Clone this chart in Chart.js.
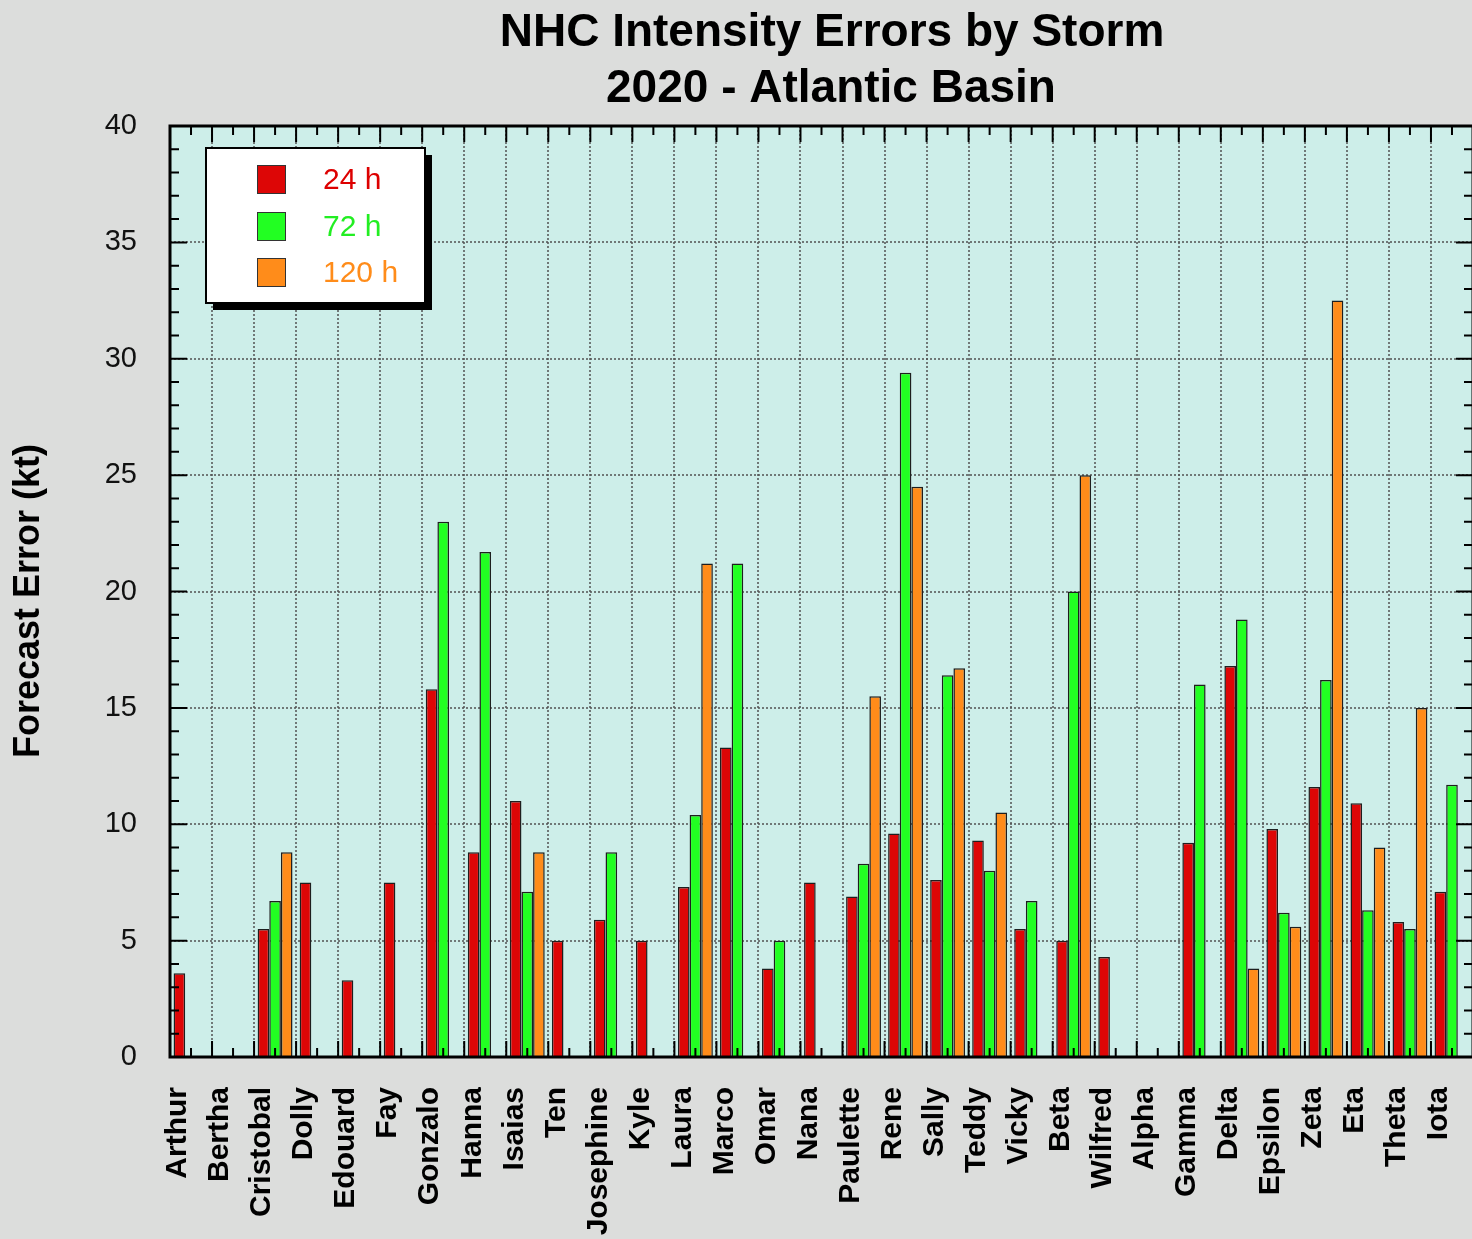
<!DOCTYPE html>
<html>
<head>
<meta charset="utf-8">
<script src="https://cdn.jsdelivr.net/npm/chart.js@4.4.0/dist/chart.umd.min.js"></script>
<style>
  html, body { margin: 0; padding: 0; background: #dcdddc; overflow: hidden; }
  canvas { display: block; }
</style>
</head>
<body>
<canvas id="errChart" width="1480" height="1239"></canvas>
<script>
const storms = ['Arthur', 'Bertha', 'Cristobal', 'Dolly', 'Edouard', 'Fay', 'Gonzalo', 'Hanna', 'Isaias', 'Ten',
    'Josephine', 'Kyle', 'Laura', 'Marco', 'Omar', 'Nana', 'Paulette', 'Rene', 'Sally', 'Teddy',
    'Vicky', 'Beta', 'Wilfred', 'Alpha', 'Gamma', 'Delta', 'Epsilon', 'Zeta', 'Eta', 'Theta', 'Iota'];

const err24 = [3.6, null, 5.5, 7.5, 3.3, 7.5, 15.8, 8.8, 11.0, 5.0,
    5.9, 5.0, 7.3, 13.3, 3.8, 7.5, 6.9, 9.6, 7.6, 9.3,
    5.5, 5.0, 4.3, null, 9.2, 16.8, 9.8, 11.6, 10.9, 5.8, 7.1];
const err72 = [null, null, 6.7, null, null, null, 23.0, 21.7, 7.1, null,
    8.8, null, 10.4, 21.2, 5.0, null, 8.3, 29.4, 16.4, 8.0,
    6.7, 20.0, null, null, 16.0, 18.8, 6.2, 16.2, 6.3, 5.5, 11.7];
const err120 = [null, null, 8.8, null, null, null, null, null, 8.8, null,
    null, null, 21.2, null, null, null, 15.5, 24.5, 16.7, 10.5,
    null, 25.0, null, null, null, 3.8, 5.6, 32.5, 9.0, 15.0, null];

const seriesNames = ['24 h', '72 h', '120 h'];
const yTicks = [0, 5, 10, 15, 20, 25, 30, 35, 40];

const fillColors = ['#dd0606', '#22ff22', '#ff8c1a'];
const textColors = ['#dd0000', '#22ee22', '#ff8c1a'];

// background, frame, tick marks, legend and titles
const decorPlugin = {
    id: 'decor',
    beforeDraw(chart) {
        const { ctx, chartArea: a } = chart;
        ctx.save();
        ctx.fillStyle = '#dcdddc';
        ctx.fillRect(0, 0, chart.width, chart.height);
        ctx.fillStyle = '#cdeee9';
        ctx.fillRect(a.left, a.top, a.right - a.left, a.bottom - a.top);
        ctx.restore();
    },
    afterDraw(chart) {
        const { ctx, chartArea: a } = chart;
        const xs = chart.scales.x;
        const ys = chart.scales.y;
        ctx.save();
        ctx.strokeStyle = '#000';
        ctx.lineWidth = 2;
        ctx.beginPath();
        // x ticks: long at category edges, short at centers
        const half = (xs.getPixelForValue(1) - xs.getPixelForValue(0)) / 2;
        for (let i = 0; i < storms.length; i++) {
            const c = xs.getPixelForValue(i);
            const e = c - half;
            ctx.moveTo(e, a.top); ctx.lineTo(e, a.top + 16);
            ctx.moveTo(e, a.bottom); ctx.lineTo(e, a.bottom - 16);
            ctx.moveTo(c, a.top); ctx.lineTo(c, a.top + 9);
            ctx.moveTo(c, a.bottom); ctx.lineTo(c, a.bottom - 9);
        }
        // y ticks every 1 kt, longer every 5
        for (let v = 0; v <= 40; v++) {
            const y = ys.getPixelForValue(v);
            const len = v % 5 === 0 ? 17 : 9;
            ctx.moveTo(a.left, y); ctx.lineTo(a.left + len, y);
            ctx.moveTo(a.right, y); ctx.lineTo(a.right - len, y);
        }
        ctx.stroke();

        ctx.lineWidth = 3;
        ctx.strokeRect(a.left, a.top, a.right - a.left, a.bottom - a.top);

        // legend
        ctx.fillStyle = '#000';
        ctx.fillRect(213, 155, 219, 155);
        ctx.fillStyle = '#fff';
        ctx.fillRect(206, 148, 219, 155);
        ctx.lineWidth = 2;
        ctx.strokeRect(206, 148, 219, 155);
        const rowY = [179, 226, 272];
        ctx.font = '30px "Liberation Sans", Arial, sans-serif';
        ctx.textBaseline = 'middle';
        ctx.textAlign = 'left';
        seriesNames.forEach((name, i) => {
            ctx.fillStyle = fillColors[i];
            ctx.fillRect(257, rowY[i] - 14, 29, 29);
            ctx.lineWidth = 1;
            ctx.strokeStyle = '#333';
            ctx.strokeRect(257.5, rowY[i] - 13.5, 28, 28);
            ctx.fillStyle = textColors[i];
            ctx.fillText(name, 323, rowY[i] + 2);
        });

        // titles
        ctx.fillStyle = '#000';
        ctx.textAlign = 'center';
        ctx.textBaseline = 'alphabetic';
        ctx.font = 'bold 46px "Liberation Sans", Arial, sans-serif';
        ctx.fillText('NHC Intensity Errors by Storm', 832, 46);
        ctx.fillText('2020 - Atlantic Basin', 831, 102);

        ctx.translate(29, 601);
        ctx.rotate(-Math.PI / 2);
        ctx.textBaseline = 'middle';
        ctx.font = 'bold 36px "Liberation Sans", Arial, sans-serif';
        ctx.fillText('Forecast Error (kt)', 0, 0);
        ctx.restore();
    }
};

const ctx = document.getElementById('errChart').getContext('2d');

new Chart(ctx, {
    type: 'bar',
    data: {
        labels: storms,
        datasets: [err24, err72, err120].map((vals, i) => ({
            label: seriesNames[i],
            data: vals,
            backgroundColor: fillColors[i],
            borderColor: '#1e1e1e',
            borderWidth: 1.5,
            categoryPercentage: 0.83,
            barPercentage: 1.0
        }))
    },
    options: {
        responsive: false,
        animation: false,
        devicePixelRatio: 1,
        layout: { padding: { top: 126, left: 0, right: 7, bottom: 0 } },
        plugins: {
            legend: { display: false },
            title: { display: false },
            tooltip: { enabled: false }
        },
        scales: {
            x: {
                afterFit: (s) => { s.height = 182; s.paddingLeft = 0; s.paddingRight = 0; },
                grid: { color: 'rgba(80,80,80,0.75)', lineWidth: 2, drawTicks: false, offset: true },
                border: { display: false, dash: [2, 2] },
                ticks: {
                    autoSkip: false,
                    minRotation: 90,
                    maxRotation: 90,
                    padding: 30,
                    labelOffset: -13,
                    color: '#000',
                    font: { family: '"Liberation Sans", Arial, sans-serif', size: 30, weight: 'bold' }
                }
            },
            y: {
                min: 0,
                max: 40,
                afterFit: (s) => { s.width = 170; s.paddingTop = 0; s.paddingBottom = 0; },
                afterBuildTicks: (s) => { s.ticks = yTicks.map(v => ({ value: v })); },
                grid: { color: 'rgba(80,80,80,0.75)', lineWidth: 2, drawTicks: false },
                border: { display: false, dash: [2, 2] },
                ticks: {
                    padding: 33,
                    color: '#111',
                    font: { family: '"Liberation Sans", Arial, sans-serif', size: 29 }
                }
            }
        }
    },
    plugins: [decorPlugin]
});
</script>
</body>
</html>
